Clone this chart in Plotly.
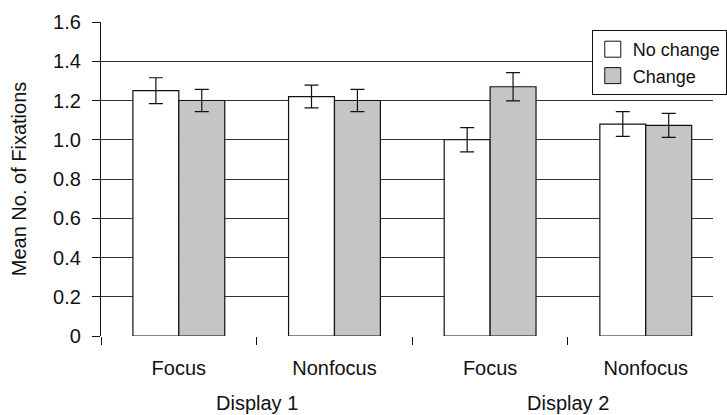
import plotly.graph_objects as go

categories = ["Focus", "Nonfocus", "Focus ", "Nonfocus "]
category_labels = ["Focus", "Nonfocus", "Focus", "Nonfocus"]
group_labels = ["Display 1", "Display 2"]
no_change = [1.25, 1.22, 1.00, 1.08]
no_change_err = [0.066, 0.058, 0.062, 0.063]
change = [1.20, 1.20, 1.27, 1.073]
change_err = [0.057, 0.057, 0.072, 0.061]
y_tickvals = [0, 0.2, 0.4, 0.6, 0.8, 1.0, 1.2, 1.4, 1.6]
y_ticktext = ["0", "0.2", "0.4", "0.6", "0.8", "1.0", "1.2", "1.4", "1.6"]

FONT = "Liberation Sans, Arial, sans-serif"
TXT = "#111111"
FS = 20
WHITE = "white"
GRAY = "#c4c6c4"

fig = go.Figure()
fig.add_trace(go.Bar(
    name="No change", x=categories, y=no_change, showlegend=False,
    marker=dict(color=WHITE, line=dict(color="#111111", width=1.2)),
    error_y=dict(type="data", array=no_change_err, color="#111111", thickness=1.2, width=7),
))
fig.add_trace(go.Bar(
    name="Change", x=categories, y=change, showlegend=False,
    marker=dict(color=GRAY, line=dict(color="#111111", width=1.2)),
    error_y=dict(type="data", array=change_err, color="#111111", thickness=1.2, width=7),
))
# legend entries with larger square keys
for name, col in [("No change", WHITE), ("Change", GRAY)]:
    fig.add_trace(go.Scatter(
        name=name, x=[None], y=[None], mode="markers",
        marker=dict(symbol="square", size=18, color=col, line=dict(color="#111111", width=1)),
    ))

for i, g in enumerate(group_labels):
    fig.add_annotation(
        x=0.5 + 2 * i, xref="x", y=0, yref="paper", yanchor="middle",
        yshift=-67, text=g, showarrow=False,
        font=dict(family=FONT, size=FS, color=TXT),
    )

fig.update_layout(
    width=727, height=415,
    margin=dict(l=101, r=0, t=22, b=79, pad=0),
    paper_bgcolor="white", plot_bgcolor="white",
    barmode="group", bargap=0.41, bargroupgap=0,
    font=dict(family=FONT, size=FS, color=TXT),
    showlegend=True,
    legend=dict(
        x=(603 - 101) / 626, xanchor="left", y=1 - (30 - 22) / 314, yanchor="top",
        bordercolor="#111111", borderwidth=1, bgcolor="white",
        font=dict(family=FONT, size=18, color=TXT),
        tracegroupgap=0, itemsizing="trace", itemwidth=30,
    ),
    xaxis=dict(
        type="category", range=[-0.5, 3.432], automargin=False,
        tickmode="array", tickvals=categories, ticktext=category_labels,
        tickson="boundaries", ticks="outside", ticklen=8, tickcolor="#111111",
        showgrid=False, showline=False, zeroline=False,
        ticklabelstandoff=18,
        tickfont=dict(family=FONT, size=FS, color=TXT),
    ),
    yaxis=dict(
        range=[0, 1.6], tickmode="array", tickvals=y_tickvals, ticktext=y_ticktext,
        automargin=False,
        ticks="outside", ticklen=8, tickcolor="#111111",
        showline=True, linecolor="#111111", linewidth=1.2,
        showgrid=True, gridcolor="#333333", gridwidth=1,
        zeroline=False, ticklabelstandoff=7,
        tickfont=dict(family=FONT, size=FS, color=TXT),
        title=dict(text="Mean No. of Fixations", standoff=21,
                   font=dict(family=FONT, size=FS, color=TXT)),
    ),
)

fig.write_html(
    "out.html",
    config={"displayModeBar": False},
    post_script="document.body.style.margin='0';document.body.style.overflow='hidden';",
)
